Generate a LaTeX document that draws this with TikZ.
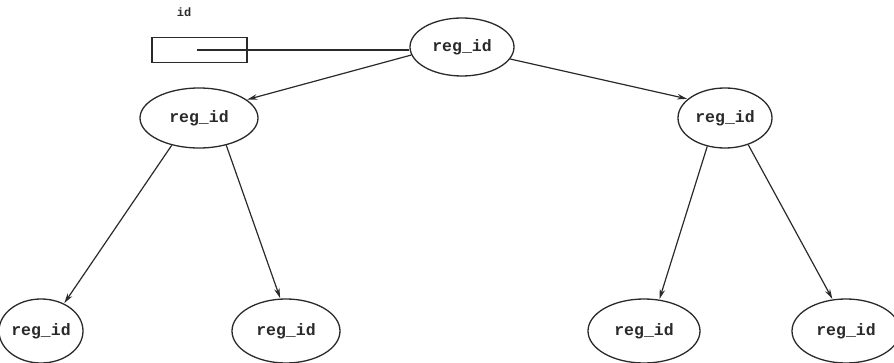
\documentclass[tikz,border=0pt]{standalone}
\usepackage{fontspec}
\setmonofont{Liberation Mono}
\usetikzlibrary{shapes.geometric,arrows.meta}
\definecolor{ink}{HTML}{2A2A2A}
\tikzset{
  regnode/.style={ellipse, draw=ink, line width=1.3pt, inner sep=0pt,
    text=ink, font=\ttfamily\bfseries\fontsize{16.5}{16.5}\selectfont},
  link/.style={draw=ink, line width=1.2pt},
  tree/.style={link, -{Stealth[length=10pt,width=5.5pt]}, shorten >=0.5pt}
}
\begin{document}
\begin{tikzpicture}[x=1pt,y=-1pt]
  \useasboundingbox (0,0) rectangle (894,363);
  % pointer variable and its box
  \node[text=ink, font=\ttfamily\bfseries\fontsize{12}{12}\selectfont] (idlabel) at (184,12) {id};
  \node[draw=ink, line width=1.2pt, minimum width=95pt, minimum height=25pt, inner sep=0pt] (idbox) at (199.5,50) {};
  \coordinate (ptr) at (197,50);
  % tree nodes
  \node[regnode, minimum width=104pt, minimum height=58pt] (root) at (462,47) {reg\_id};
  \node[regnode, minimum width=118pt, minimum height=60pt] (lm) at (199,118) {reg\_id};
  \node[regnode, minimum width=94pt, minimum height=60pt] (rm) at (725,118) {reg\_id};
  \node[regnode, minimum width=84pt, minimum height=64pt] (ll) at (41,331) {reg\_id};
  \node[regnode, minimum width=108pt, minimum height=64pt] (lr) at (286,331) {reg\_id};
  \node[regnode, minimum width=112pt, minimum height=64pt] (rl) at (644,331) {reg\_id};
  \node[regnode, minimum width=108pt, minimum height=64pt] (rr) at (846,331) {reg\_id};
  % connectors
  \draw[link] (ptr) -- (root.west |- ptr);
  \draw[tree] (root.189) -- (lm.21);
  \draw[tree] (root.346) -- (rm.153);
  \draw[tree] (lm.225) -- (ll.50);
  \draw[tree] (lm.315) -- (lr.100);
  \draw[tree] (rm.238) -- (rl.64);
  \draw[tree] (rm.311) -- (rr.113);
\end{tikzpicture}
\end{document}
